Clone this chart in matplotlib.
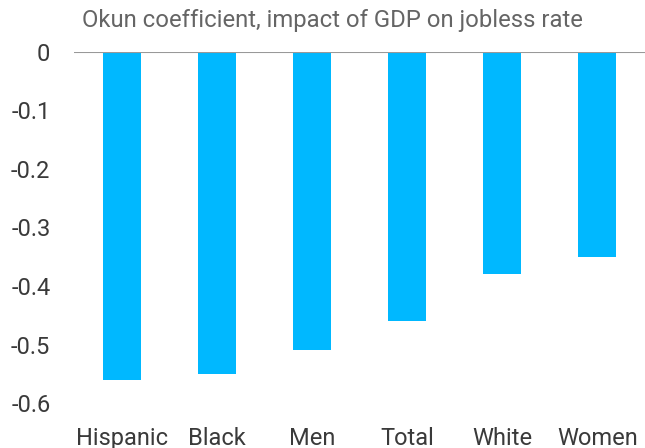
import matplotlib
matplotlib.use('Agg')
import matplotlib.pyplot as plt

categories = ['Hispanic', 'Black', 'Men', 'Total', 'White', 'Women']
okun_coef = [-0.56, -0.55, -0.51, -0.46, -0.38, -0.35]
yticks = [0, -0.1, -0.2, -0.3, -0.4, -0.5, -0.6]
ytick_labels = ['0', '-0.1', '-0.2', '-0.3', '-0.4', '-0.5', '-0.6']

plt.rcParams['font.family'] = ['Roboto', 'DejaVu Sans']
text_color = '#3a3a3a'

fig = plt.figure(figsize=(6.45, 4.48), dpi=100)
ax = fig.add_axes([74 / 645, 1 - 403 / 448, 1 - 74 / 645, (403 - 52) / 448])

ax.bar(range(len(categories)), okun_coef, width=0.4, color='#00b8ff', zorder=2)
ax.axhline(0, color='#999999', lw=1.5, zorder=3)

ax.set_xlim(-0.5, 5.5)
ax.set_ylim(-0.6, 0)
ax.set_xticks(range(len(categories)))
ax.set_xticklabels(categories, fontsize=17, color=text_color)
ax.set_yticks(yticks)
ax.set_yticklabels(ytick_labels, fontsize=17, color=text_color)
ax.tick_params(axis='x', length=0, pad=17)
ax.tick_params(axis='y', length=0, pad=17)
for s in ax.spines.values():
    s.set_visible(False)

fig.text(82 / 645, 1 - 21 / 448, 'Okun coefficient, impact of GDP on jobless rate',
         fontsize=17.2, color='#656565', va='center', ha='left')

fig.savefig('out.png', dpi=100)
